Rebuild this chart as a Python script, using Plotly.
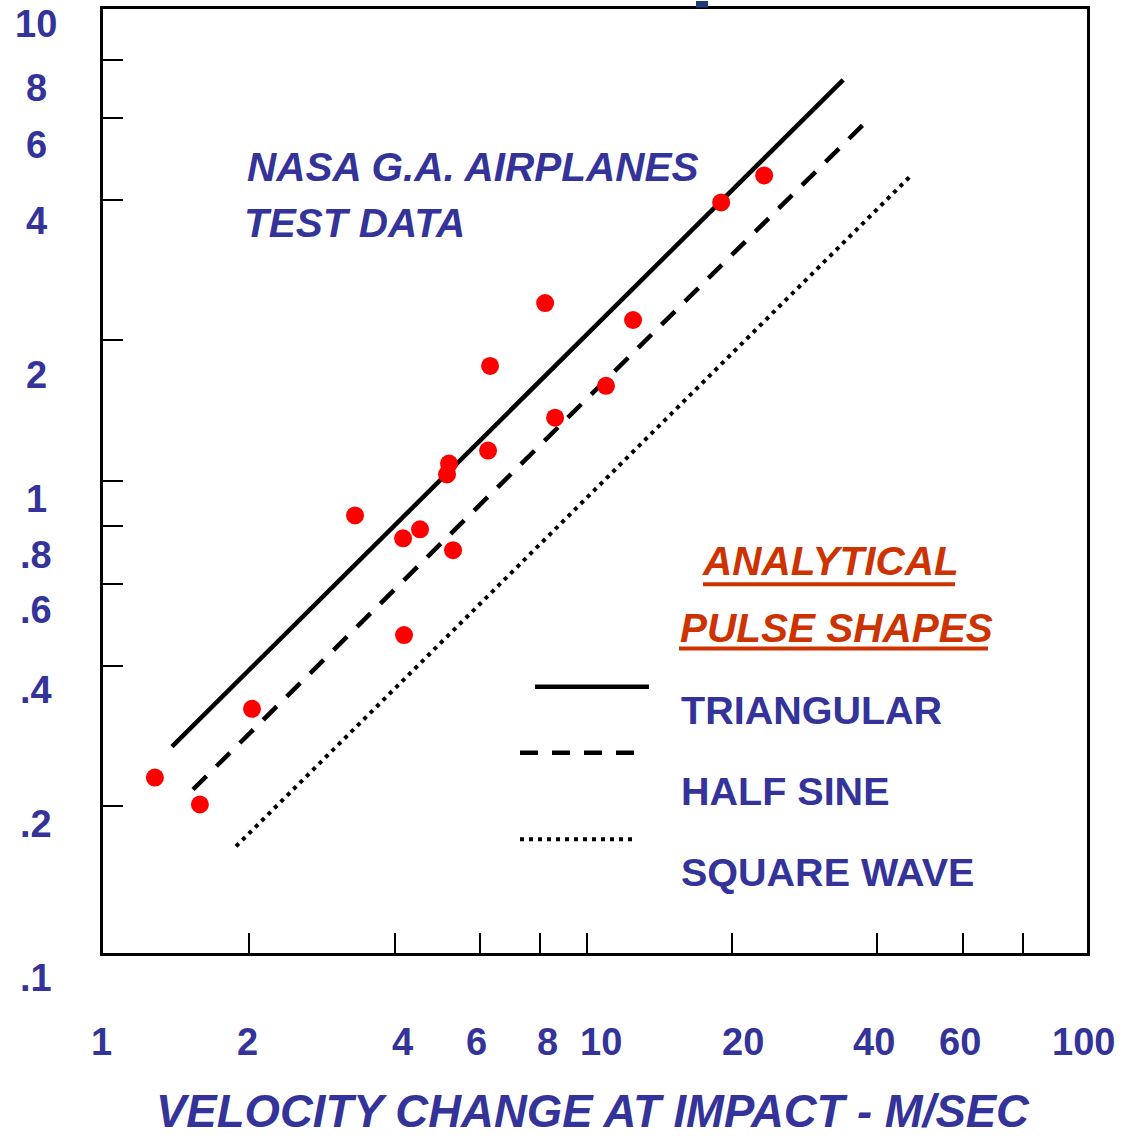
import plotly.graph_objects as go

# ---------------- data ----------------
test_velocity = [1.275, 1.580, 2.026, 3.311, 4.164, 4.515, 4.183, 5.135, 5.184,
                 5.284, 6.245, 6.305, 8.198, 8.597, 10.96, 12.47, 18.98, 23.30]
test_value = [0.2304, 0.2017, 0.3237, 0.842, 0.752, 0.786, 0.466, 1.031, 1.088,
              0.709, 1.160, 1.763, 2.405, 1.365, 1.598, 2.212, 3.956, 4.519]

triangular_x = [1.383, 33.96]
triangular_y = [0.2685, 7.25]
half_sine_x = [1.529, 37.72]
half_sine_y = [0.2172, 5.868]
square_wave_x = [1.877, 46.52]
square_wave_y = [0.164, 4.476]

x_tick_vals = [2, 4, 6, 8, 10, 20, 40, 60, 80]
y_tick_vals = [0.2, 0.4, 0.6, 0.8, 1, 2, 4, 6, 8]
x_tick_labels = ["1", "2", "4", "6", "8", "10", "20", "40", "60", "100"]
y_tick_labels = ["10", "8", "6", "4", "2", "1", ".8", ".6", ".4", ".2", ".1"]

# ---------------- layout helpers ----------------
W, H = 1126, 1136
L, R, T, B = 103, 1087, 6, 953
BLUE = "#333399"
ORANGE = "#CC3300"
FONT = "Liberation Sans, Arial, sans-serif"


def px(x):
    return (x - L) / (R - L)


def py(y):
    return (B - y) / (B - T)


x_label_px = [101, 247, 402, 476, 547, 601, 743, 874, 960, 1083]
y_label_py = [21.5, 85, 142, 219, 373, 498, 554, 609, 689, 824, 978]

fig = go.Figure()

fig.add_trace(go.Scatter(x=triangular_x, y=triangular_y, mode="lines",
                         line=dict(color="black", width=4.5), showlegend=False))
fig.add_trace(go.Scatter(x=half_sine_x, y=half_sine_y, mode="lines",
                         line=dict(color="black", width=4.5, dash="19px,14px"),
                         showlegend=False))
fig.add_trace(go.Scatter(x=square_wave_x, y=square_wave_y, mode="lines",
                         line=dict(color="black", width=4, dash="4px,5px"),
                         showlegend=False))
fig.add_trace(go.Scatter(x=test_velocity, y=test_value, mode="markers",
                         marker=dict(color="#FF0000", size=18, line=dict(width=0)),
                         showlegend=False))

annotations = []
for t, xp in zip(x_tick_labels, x_label_px):
    annotations.append(dict(text="<b>%s</b>" % t, x=px(xp), y=py(1042),
                            xref="paper", yref="paper", xanchor="center",
                            yanchor="middle", showarrow=False,
                            font=dict(family=FONT, size=38, color=BLUE)))
for t, yp in zip(y_tick_labels, y_label_py):
    annotations.append(dict(text="<b>%s</b>" % t, x=px(36), y=py(yp),
                            xref="paper", yref="paper", xanchor="center",
                            yanchor="middle", showarrow=False,
                            font=dict(family=FONT, size=38, color=BLUE)))


def txt(text, x, y, color=BLUE, size=39.5, anchor="left"):
    annotations.append(dict(text=text, x=px(x), y=py(y), xref="paper",
                            yref="paper", xanchor=anchor, yanchor="middle",
                            showarrow=False,
                            font=dict(family=FONT, size=size, color=color)))


txt("<b><i>NASA G.A. AIRPLANES</i></b>", 245, 165, size=40.5)
txt("<b><i>TEST DATA</i></b>", 242, 221, size=40.5)
txt("<b><i>ANALYTICAL</i></b>", 700, 560, color=ORANGE, size=40.5)
txt("<b><i>PULSE SHAPES</i></b>", 678, 627, color=ORANGE, size=40.5)
txt("<b>TRIANGULAR</b>", 679, 709)
txt("<b>HALF SINE</b>", 679, 790.5)
txt("<b>SQUARE WAVE</b>", 679, 871.5)
txt("<b><i>VELOCITY CHANGE AT IMPACT - M/SEC</i></b>", 593, 1112, size=45.5,
    anchor="center")

shapes = [
    # legend samples
    dict(type="line", xref="paper", yref="paper", x0=px(535), x1=px(649),
         y0=py(686), y1=py(686), line=dict(color="black", width=4.5)),
    dict(type="line", xref="paper", yref="paper", x0=px(520), x1=px(637),
         y0=py(752), y1=py(752),
         line=dict(color="black", width=4.5, dash="18px,14px")),
    dict(type="line", xref="paper", yref="paper", x0=px(520), x1=px(637),
         y0=py(839), y1=py(839),
         line=dict(color="black", width=4, dash="4px,5px")),
    # underlines
    dict(type="line", xref="paper", yref="paper", x0=px(703), x1=px(955),
         y0=py(583), y1=py(583), line=dict(color=ORANGE, width=4)),
    dict(type="line", xref="paper", yref="paper", x0=px(679), x1=px(988),
         y0=py(647.5), y1=py(647.5), line=dict(color=ORANGE, width=4)),
    # cut-off fragment at the top
    dict(type="rect", xref="paper", yref="paper", x0=px(696), x1=px(708),
         y0=py(4.5), y1=py(-2), fillcolor="#1F3A7A", line=dict(width=0)),
]

fig.update_layout(
    width=W, height=H,
    margin=dict(l=L, r=W - R, t=T, b=H - B, pad=0),
    paper_bgcolor="white", plot_bgcolor="white",
    annotations=annotations, shapes=shapes,
    xaxis=dict(type="log", range=[-0.002, 2.036], showgrid=False,
               zeroline=False, showline=True, linecolor="black", linewidth=3,
               mirror=True, ticks="inside", ticklen=20, tickwidth=2,
               tickcolor="black", tickvals=x_tick_vals, showticklabels=False,
               fixedrange=True),
    yaxis=dict(type="log", range=[-1.0141, 1.0124], showgrid=False,
               zeroline=False, showline=True, linecolor="black", linewidth=3,
               mirror=True, ticks="inside", ticklen=20, tickwidth=2,
               tickcolor="black", tickvals=y_tick_vals, showticklabels=False,
               fixedrange=True),
    showlegend=False,
)

fig.write_html("out.html", config={"displayModeBar": False})
